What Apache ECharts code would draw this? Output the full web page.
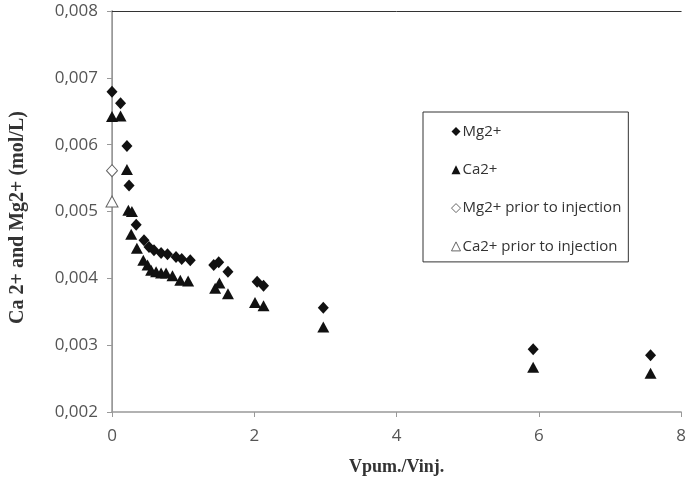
<!DOCTYPE html>
<html>
<head>
<meta charset="utf-8">
<script src="https://cdn.jsdelivr.net/npm/echarts@6/dist/echarts.min.js"></script>
<style>
  html, body { margin: 0; padding: 0; background: #fff; }
  #chart { width: 689px; height: 485px; }
</style>
</head>
<body>
<div id="chart"></div>
<script>
// Mg2+ concentration versus pumped/injected volume ratio
const mgX = [0, 0.12, 0.21, 0.24, 0.34, 0.45, 0.52, 0.59, 0.69, 0.78, 0.9, 0.98, 1.1, 1.43, 1.5, 1.63, 2.04, 2.13, 2.97, 5.92, 7.57];
const mgY = [0.00679, 0.00662, 0.00598, 0.00539, 0.0048, 0.00457, 0.00447, 0.00442, 0.00438, 0.00436, 0.00432, 0.00429, 0.00427, 0.0042, 0.00424, 0.0041, 0.00395, 0.00389, 0.00356, 0.00294, 0.00285];

// Ca2+ concentration versus pumped/injected volume ratio
const caX = [0, 0.12, 0.21, 0.23, 0.28, 0.27, 0.35, 0.44, 0.5, 0.55, 0.62, 0.69, 0.76, 0.85, 0.96, 1.07, 1.45, 1.51, 1.63, 2.01, 2.13, 2.97, 5.92, 7.57];
const caY = [0.00642, 0.00643, 0.00563, 0.00502, 0.005, 0.00466, 0.00445, 0.00427, 0.0042, 0.00412, 0.0041, 0.00408, 0.00408, 0.00404, 0.00397, 0.00396, 0.00385, 0.00393, 0.00377, 0.00364, 0.00359, 0.00327, 0.00267, 0.00258];

// Background levels measured before injection
const mgPriorX = [0];
const mgPriorY = [0.00561];
const caPriorX = [0];
const caPriorY = [0.00515];

const seriesNames = ['Mg2+', 'Ca2+', 'Mg2+ prior to injection', 'Ca2+ prior to injection'];

const xTicks = { min: 0, max: 8, interval: 2 };
const yTicks = { min: 0.002, max: 0.008, interval: 0.001 };

function pairs(xs, ys) {
  return xs.map((x, i) => [x, ys[i]]);
}

const tickFont = { fontFamily: 'Open Sans, Liberation Sans, sans-serif', fontSize: 17, color: '#555' };
const nameFont = { fontFamily: 'Liberation Serif, serif', fontWeight: 'bold', color: '#333' };

const chart = echarts.init(document.getElementById('chart'), null, { renderer: 'canvas' });

chart.setOption({
  animation: false,
  backgroundColor: '#fff',
  grid: { left: 111, right: 5, top: 11, bottom: 73, containLabel: false },
  legend: {
    orient: 'vertical',
    left: 423,
    top: 112,
    padding: [12, 7, 8, 28],
    itemGap: 23.3,
    itemWidth: 9,
    itemHeight: 9,
    borderColor: '#333',
    borderWidth: 1,
    textStyle: { fontFamily: 'Open Sans, Liberation Sans, sans-serif', fontSize: 15, color: '#333', padding: [0, 0, 0, -3] },
    data: [
      { name: seriesNames[0], icon: 'diamond', itemStyle: { color: '#111' } },
      { name: seriesNames[1], icon: 'triangle', itemStyle: { color: '#111' } },
      { name: seriesNames[2], icon: 'diamond', itemStyle: { color: '#fff', borderColor: '#666', borderWidth: 1 } },
      { name: seriesNames[3], icon: 'triangle', itemStyle: { color: '#fff', borderColor: '#666', borderWidth: 1 } }
    ]
  },
  xAxis: [{
    type: 'value',
    min: xTicks.min, max: xTicks.max, interval: xTicks.interval,
    name: 'Vpum./Vinj.',
    nameLocation: 'middle',
    nameGap: 46,
    nameTextStyle: Object.assign({ fontSize: 18 }, nameFont),
    axisLine: { show: true, onZero: false, lineStyle: { color: '#999', width: 1.5 } },
    axisTick: { show: true, inside: false, length: 5, lineStyle: { color: '#999' } },
    axisLabel: Object.assign({ margin: 16 }, tickFont),
    splitLine: { show: false }
  }, {
    type: 'value', position: 'top',
    min: xTicks.min, max: xTicks.max,
    axisLine: { show: true, lineStyle: { color: '#333', width: 1 } },
    axisTick: { show: false }, axisLabel: { show: false }, splitLine: { show: false }
  }],
  yAxis: [{
    type: 'value',
    min: yTicks.min, max: yTicks.max, interval: yTicks.interval,
    name: 'Ca 2+ and Mg2+ (mol/L)',
    nameLocation: 'middle',
    nameGap: 84,
    nameTextStyle: Object.assign({ fontSize: 20, padding: [0, 12, 0, 0] }, nameFont),
    axisLine: { show: true, onZero: false, lineStyle: { color: '#999', width: 1.5 } },
    axisTick: { show: true, inside: false, length: 5, lineStyle: { color: '#999' } },
    axisLabel: Object.assign({ margin: 14, formatter: v => v.toFixed(3).replace('.', ',') }, tickFont),
    splitLine: { show: false }
  }, {
    type: 'value', position: 'right',
    min: yTicks.min, max: yTicks.max,
    axisLine: { show: true, lineStyle: { color: '#999', width: 1 } },
    axisTick: { show: false }, axisLabel: { show: false }, splitLine: { show: false }
  }],
  series: [
    {
      name: seriesNames[0], type: 'scatter', symbol: 'diamond', symbolSize: [11, 12],
      itemStyle: { color: '#111', opacity: 1 },
      data: pairs(mgX, mgY), z: 3
    },
    {
      name: seriesNames[1], type: 'scatter', symbol: 'triangle', symbolSize: [12, 11],
      itemStyle: { color: '#111', opacity: 1 },
      data: pairs(caX, caY), z: 2
    },
    {
      name: seriesNames[2], type: 'scatter', symbol: 'diamond', symbolSize: [11, 12],
      itemStyle: { color: '#fff', borderColor: '#666', borderWidth: 1, opacity: 1 },
      data: pairs(mgPriorX, mgPriorY), z: 4
    },
    {
      name: seriesNames[3], type: 'scatter', symbol: 'triangle', symbolSize: [12, 11],
      itemStyle: { color: '#fff', borderColor: '#666', borderWidth: 1, opacity: 1 },
      data: pairs(caPriorX, caPriorY), z: 4
    }
  ]
});
</script>
</body>
</html>
